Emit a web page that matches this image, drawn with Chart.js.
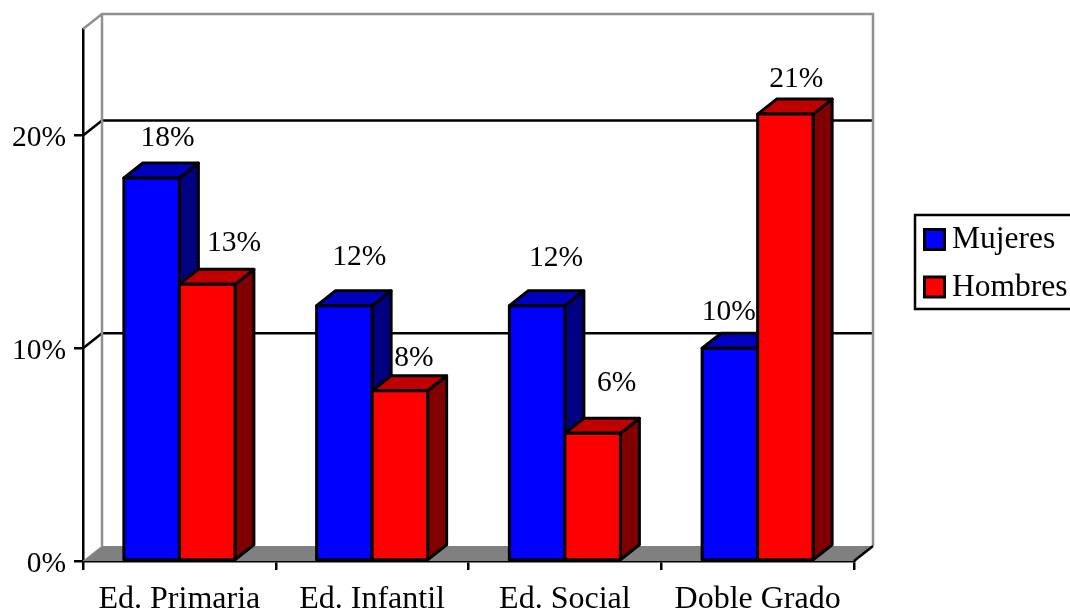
<!DOCTYPE html>
<html>
<head>
<meta charset="utf-8">
<title>Mujeres y Hombres</title>
<script src="https://cdn.jsdelivr.net/npm/chart.js@4/dist/chart.umd.min.js"></script>
<style>
  html, body { margin: 0; background: #fff; }
  canvas { display: block; }
</style>
</head>
<body>
<canvas id="chart" width="1070" height="609"></canvas>
<script>
var categories = ['Ed. Primaria', 'Ed. Infantil', 'Ed. Social', 'Doble Grado']
var mujeres = [18, 12, 12, 10]
var hombres = [13, 8, 6, 21]
var yTicks = [0, 10, 20]

// where each percent label sits, relative to the top centre of its bar
var mujeresNudge = [[16, -40], [15, -48], [19, -47], [-1, -36]]
var hombresNudge = [[27, -41], [14, -33], [24, -50], [11, -35]]

var depthX = 19
var depthY = 15
var fontFamily = '"Liberation Serif", "Times New Roman", serif'
var lineW = 2.5
var barLineW = 3

function poly(ctx, pts, fill, stroke, lw) {
  ctx.beginPath()
  pts.forEach(function (p, i) { i ? ctx.lineTo(p[0], p[1]) : ctx.moveTo(p[0], p[1]) })
  ctx.closePath()
  if (fill) { ctx.fillStyle = fill; ctx.fill() }
  if (stroke) { ctx.strokeStyle = stroke; ctx.lineWidth = lw; ctx.stroke() }
}

function line(ctx, x1, y1, x2, y2, color, lw) {
  ctx.beginPath()
  ctx.moveTo(x1, y1)
  ctx.lineTo(x2, y2)
  ctx.strokeStyle = color
  ctx.lineWidth = lw
  ctx.stroke()
}

var box3d = {
  id: 'box3d',
  // back wall, floor and grid behind the bars
  beforeDatasetsDraw: function (chart) {
    var ctx = chart.ctx, a = chart.chartArea, y = chart.scales.y
    ctx.save()
    poly(ctx, [[a.left, a.bottom], [a.left + depthX, a.bottom - depthY], [a.right + depthX, a.bottom - depthY], [a.right, a.bottom]], '#808080')
    yTicks.forEach(function (t) {
      if (t === 0) return
      var py = y.getPixelForValue(t)
      line(ctx, a.left, py, a.left + depthX, py - depthY, '#000', lineW)
      line(ctx, a.left + depthX, py - depthY, a.right + depthX, py - depthY, '#000', lineW)
    })
    ctx.beginPath()
    ctx.moveTo(a.left, a.top)
    ctx.lineTo(a.left + depthX, a.top - depthY)
    ctx.lineTo(a.right + depthX, a.top - depthY)
    ctx.lineTo(a.right + depthX, a.bottom - depthY)
    ctx.moveTo(a.left + depthX, a.top - depthY)
    ctx.lineTo(a.left + depthX, a.bottom - depthY)
    ctx.strokeStyle = '#909090'
    ctx.lineWidth = lineW
    ctx.stroke()
    line(ctx, a.left, a.bottom, a.left + depthX, a.bottom - depthY, '#999', 1)
    line(ctx, a.right, a.bottom, a.right + depthX, a.bottom - depthY, '#000', lineW)
    ctx.restore()
  },
  // the library paints the last series first, here the left series has to go under the right one
  beforeDatasetDraw: function () { return false },
  afterDatasetsDraw: function (chart) {
    var ctx = chart.ctx
    chart.data.datasets.forEach(function (ds, i) {
      var meta = chart.getDatasetMeta(i)
      ctx.save()
      ctx.lineJoin = 'round'
      meta.data.forEach(function (bar) {
        var l = bar.x - bar.width / 2, r = bar.x + bar.width / 2
        poly(ctx, [[r, bar.base], [r + depthX, bar.base - depthY], [r + depthX, bar.y - depthY], [r, bar.y]], ds.sideColor, '#000', barLineW)
        poly(ctx, [[l, bar.y], [l + depthX, bar.y - depthY], [r + depthX, bar.y - depthY], [r, bar.y]], ds.topColor, '#000', barLineW)
      })
      meta.controller.draw()
      meta.data.forEach(function (bar) {
        var l = bar.x - bar.width / 2, r = bar.x + bar.width / 2
        poly(ctx, [[l, bar.base], [l, bar.y], [r, bar.y], [r, bar.base]], null, '#000', barLineW)
      })
      ctx.restore()
    })
  },
  afterDraw: function (chart) {
    var ctx = chart.ctx
    ctx.save()
    ctx.font = '29.5px ' + fontFamily
    ctx.fillStyle = '#000'
    ctx.textAlign = 'center'
    ctx.textBaseline = 'middle'
    chart.data.datasets.forEach(function (ds, i) {
      chart.getDatasetMeta(i).data.forEach(function (bar, j) {
        var n = ds.nudge[j]
        ctx.fillText(ds.data[j] + '%', bar.x + n[0], bar.y + n[1])
      })
    })

    // legend, its frame runs off the right edge of the picture
    ctx.beginPath()
    ctx.moveTo(1072, 215)
    ctx.lineTo(915, 215)
    ctx.lineTo(915, 309)
    ctx.lineTo(1072, 309)
    ctx.strokeStyle = '#000'
    ctx.lineWidth = lineW
    ctx.stroke()
    ctx.textAlign = 'left'
    ctx.font = '31.5px ' + fontFamily
    chart.data.datasets.forEach(function (ds, i) {
      var rowY = 240 + i * 47.5
      ctx.fillStyle = ds.backgroundColor
      ctx.fillRect(924.5, rowY - 10.5, 20, 20)
      ctx.lineWidth = barLineW
      ctx.strokeRect(924.5, rowY - 10.5, 20, 20)
      ctx.fillStyle = '#000'
      ctx.fillText(ds.label, 952, rowY)
    })
    ctx.restore()
  }
}

new Chart(document.getElementById('chart').getContext('2d'), {
  type: 'bar',
  data: {
    labels: categories,
    datasets: [
      { label: 'Mujeres', data: mujeres, nudge: mujeresNudge,
        backgroundColor: '#0000ff', topColor: '#0000c0', sideColor: '#000080',
        borderColor: '#000', borderWidth: 0 },
      { label: 'Hombres', data: hombres, nudge: hombresNudge,
        backgroundColor: '#ff0000', topColor: '#c00000', sideColor: '#800000',
        borderColor: '#000', borderWidth: 0 }
    ]
  },
  options: {
    responsive: false,
    animation: false,
    categoryPercentage: 0.576,
    barPercentage: 1,
    layout: { padding: { left: 0, right: 216, top: 29, bottom: 0 } },
    plugins: { legend: { display: false }, tooltip: { enabled: false } },
    scales: {
      x: {
        afterFit: function (s) { s.height = 48 },
        grid: { drawOnChartArea: false, color: '#000', lineWidth: lineW, tickLength: 9 },
        border: { color: '#000', width: lineW },
        ticks: { color: '#000', padding: 10, maxRotation: 0, font: { family: fontFamily, size: 32 } }
      },
      y: {
        min: 0,
        max: 25,
        afterFit: function (s) { s.width = 83 },
        afterBuildTicks: function (s) { s.ticks = yTicks.map(function (v) { return { value: v } }) },
        grid: { drawOnChartArea: false, color: '#000', lineWidth: lineW, tickLength: 9 },
        border: { color: '#000', width: lineW },
        ticks: { color: '#000', padding: 8, labelOffset: 3, font: { family: fontFamily, size: 29.5 },
          callback: function (v) { return v + '%' } }
      }
    }
  },
  plugins: [box3d]
})
</script>
</body>
</html>
